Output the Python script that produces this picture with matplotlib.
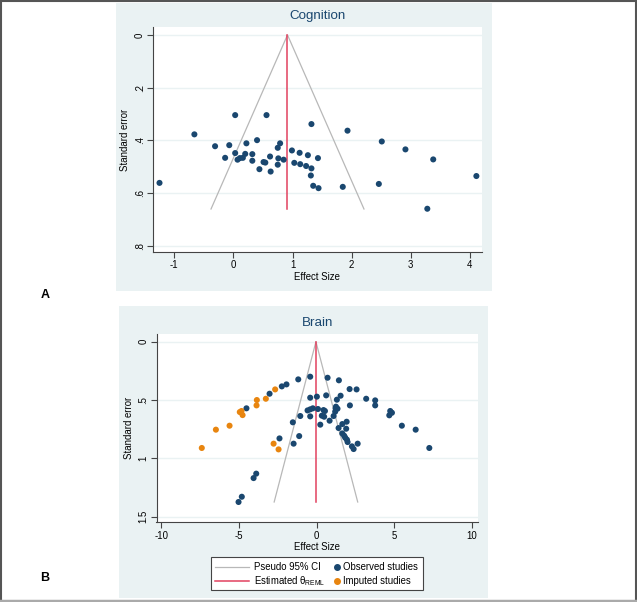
import matplotlib
matplotlib.use("Agg")
import matplotlib.pyplot as plt
import numpy as np
from matplotlib.lines import Line2D
from matplotlib.patches import Rectangle

plt.rcParams["font.family"] = ["Liberation Sans", "DejaVu Sans"]

NAVY = "#1a476f"
ORANGE = "#e8850f"
RED = "#e2415f"
CI_GRAY = "#b8b8b8"
PANEL_BG = "#eaf2f3"

# Cognition: effect size and standard error per study
cog_es = [-1.25, -0.66, -0.31, -0.14, -0.07, 0.03, 0.03, 0.07, 0.11, 0.16,
          0.20, 0.22, 0.32, 0.32, 0.40, 0.44, 0.51, 0.54, 0.56, 0.62,
          0.63, 0.75, 0.76, 0.75, 0.79, 0.85, 0.99, 1.03, 1.12, 1.13,
          1.23, 1.26, 1.32, 1.32, 1.31, 1.35, 1.43, 1.44, 1.85, 1.93,
          2.46, 2.51, 2.91, 3.28, 3.38, 4.11]
cog_se = [0.561, 0.377, 0.422, 0.466, 0.418, 0.304, 0.448, 0.473, 0.467, 0.466,
          0.451, 0.411, 0.452, 0.477, 0.399, 0.509, 0.482, 0.484, 0.304, 0.461,
          0.518, 0.428, 0.468, 0.492, 0.411, 0.473, 0.438, 0.485, 0.447, 0.490,
          0.497, 0.456, 0.338, 0.506, 0.533, 0.572, 0.467, 0.581, 0.576, 0.363,
          0.565, 0.404, 0.434, 0.659, 0.472, 0.535]
cog_theta = 0.915
cog_se_max = 0.66

# Brain: observed studies
brain_es = [-5.03, -4.82, -4.06, -3.89, -4.52, -3.03, -2.24, -1.94, -1.18, -0.41,
            0.71, 1.44, 2.13, 2.58, 1.55, 1.31, 0.62, 0.02, -0.41, 3.20,
            3.78, 3.78, 2.15, 4.75, 4.86, 4.69, 5.50, 6.39, 7.27,
            -0.58, -0.41, -0.24, 0.09, 0.45, 0.54, 0.34, 0.49, -0.41, -1.05,
            0.24, 0.84, -1.53, 1.10, 1.20, 1.23, 1.35, 1.25, 1.42, 1.66,
            1.94, 1.91, 1.66, 1.78, 1.85, 1.96, 2.00, 2.28, 2.39, 2.65,
            -1.12, -2.39, -1.48]
brain_se = [1.374, 1.329, 1.169, 1.131, 0.571, 0.446, 0.383, 0.366, 0.323, 0.300,
            0.309, 0.331, 0.406, 0.409, 0.463, 0.497, 0.460, 0.471, 0.480, 0.489,
            0.503, 0.546, 0.546, 0.594, 0.609, 0.631, 0.720, 0.754, 0.911,
            0.589, 0.580, 0.571, 0.577, 0.586, 0.594, 0.634, 0.643, 0.640, 0.637,
            0.711, 0.677, 0.691, 0.637, 0.600, 0.571, 0.574, 0.557, 0.740, 0.706,
            0.686, 0.746, 0.786, 0.806, 0.823, 0.840, 0.860, 0.897, 0.920, 0.874,
            0.809, 0.829, 0.874]
# Brain: imputed studies (trim-and-fill)
imp_es = [-7.40, -6.49, -5.61, -4.95, -4.84, -4.77, -3.85, -3.87, -3.27, -2.67,
          -2.77, -2.45]
imp_se = [0.911, 0.754, 0.720, 0.603, 0.594, 0.629, 0.500, 0.546, 0.489, 0.409,
          0.874, 0.923]
brain_theta = -0.04
brain_se_max = 1.374

W, H = 637, 602
DOT = 19
FS = 6.9


def fx(px):
    return px / W


def fy(py):
    return 1 - py / H


def funnel(ax, es, se, theta, se_max, xticks, xlabels, yticks, ylabels, xlim, ylim, title):
    ax.set_facecolor("white")
    for t in yticks:
        ax.axhline(t, color=PANEL_BG, lw=1.0, zorder=0)
    ax.plot([theta - 1.96 * se_max, theta, theta + 1.96 * se_max],
            [se_max, 0, se_max], color=CI_GRAY, lw=0.9, zorder=1)
    ax.plot([theta, theta], [0, se_max], color=RED, lw=1.1, zorder=2)
    ax.scatter(es, se, s=DOT, color=NAVY, edgecolors="none", zorder=3)
    ax.set_xlim(*xlim)
    ax.set_ylim(*ylim)
    ax.set_xticks(xticks)
    ax.set_xticklabels(xlabels)
    ax.set_yticks(yticks)
    ax.set_yticklabels(ylabels, rotation=90, va="center")
    for s in ("top", "right"):
        ax.spines[s].set_visible(False)
    for s in ("left", "bottom"):
        ax.spines[s].set_color("#444444")
        ax.spines[s].set_linewidth(0.8)
    ax.tick_params(length=4, width=0.8, color="#444444", labelsize=FS, pad=2)
    ax.set_xlabel("Effect Size", fontsize=FS, labelpad=1)
    ax.set_ylabel("Standard error", fontsize=FS, labelpad=3)
    ax.set_title(title, fontsize=9.6, color=NAVY, pad=6)


fig = plt.figure(figsize=(W / 100, H / 100), dpi=100)
fig.patch.set_facecolor("white")

# panel backgrounds (graph region)
fig.add_artist(Rectangle((fx(116), fy(291)), fx(492 - 116), (291 - 3) / H,
                         facecolor=PANEL_BG, edgecolor="none", zorder=0))
fig.add_artist(Rectangle((fx(119), fy(598)), fx(488 - 119), (598 - 306) / H,
                         facecolor=PANEL_BG, edgecolor="none", zorder=0))

ax1 = fig.add_axes([fx(153), fy(252), fx(481.7 - 153), (252 - 27) / H])
funnel(ax1, cog_es, cog_se, cog_theta, cog_se_max,
       [-1, 0, 1, 2, 3, 4], ["-1", "0", "1", "2", "3", "4"],
       [0, 0.2, 0.4, 0.6, 0.8], ["0", ".2", ".4", ".6", ".8"],
       (-1.36, 4.2), (0.823, -0.030), "Cognition")

ax2 = fig.add_axes([fx(156.5), fy(522.3), fx(477.7 - 156.5), (522.3 - 334) / H])
funnel(ax2, brain_es, brain_se, brain_theta, brain_se_max,
       [-10, -5, 0, 5, 10], ["-10", "-5", "0", "5", "10"],
       [0, 0.5, 1, 1.5], ["0", ".5", "1", "1.5"],
       (-10.32, 10.39), (1.548, -0.066), "Brain")
ax2.scatter(imp_es, imp_se, s=DOT, color=ORANGE, edgecolors="none", zorder=3)

# legend drawn by hand to match the Stata layout
fig.add_artist(Rectangle((fx(210.7), fy(590)), fx(423.3 - 210.7), (590 - 556.7) / H,
                         facecolor="white", edgecolor="#444444", lw=0.8))
row1, row2 = fy(566.7), fy(581)
fig.add_artist(Line2D([fx(215), fx(248.5)], [row1, row1], color=CI_GRAY, lw=0.9))
fig.add_artist(Line2D([fx(215), fx(248.5)], [row2, row2], color=RED, lw=1.1))
fig.add_artist(Line2D([fx(337)], [row1], ls="none", marker="o", ms=4, color=NAVY))
fig.add_artist(Line2D([fx(337)], [row2], ls="none", marker="o", ms=4, color=ORANGE))
fig.text(fx(254.5), row1, "Pseudo 95% CI", fontsize=FS, va="center")
fig.text(fx(254.5), row2, r"Estimated $\mathregular{\theta_{REML}}$", fontsize=FS, va="center")
fig.text(fx(343), row1, "Observed studies", fontsize=FS, va="center")
fig.text(fx(343), row2, "Imputed studies", fontsize=FS, va="center")

fig.text(fx(45), fy(295), "A", fontsize=9, fontweight="bold", ha="center", va="center")
fig.text(fx(45), fy(578), "B", fontsize=9, fontweight="bold", ha="center", va="center")

# outer frame
fig.add_artist(Line2D([0.001, 0.001], [0, 1], color="#555555", lw=1.5))
fig.add_artist(Line2D([0, 1], [0.999, 0.999], color="#555555", lw=1.5))
fig.add_artist(Line2D([fx(636), fx(636)], [0, 1], color="#555555", lw=1.5))
fig.add_artist(Line2D([0, 1], [fy(601), fy(601)], color="#aaaaaa", lw=2.5))

fig.savefig("out.png", dpi=100, facecolor="white")
